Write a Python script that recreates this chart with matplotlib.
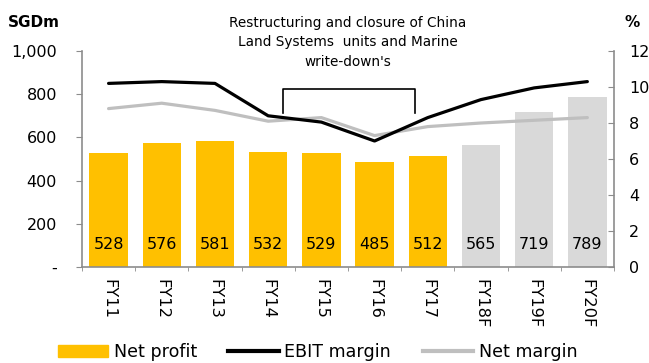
import numpy as np
import matplotlib.pyplot as plt
from matplotlib.ticker import FuncFormatter
from matplotlib.patches import Patch
from matplotlib.lines import Line2D

years = ['FY11', 'FY12', 'FY13', 'FY14', 'FY15', 'FY16', 'FY17', 'FY18F', 'FY19F', 'FY20F']
net_profit = [528, 576, 581, 532, 529, 485, 512, 565, 719, 789]
is_forecast = [False] * 7 + [True] * 3
ebit_margin = [10.2, 10.3, 10.2, 8.4, 8.05, 7.0, 8.3, 9.3, 9.95, 10.3]
net_margin = [8.8, 9.1, 8.7, 8.1, 8.3, 7.3, 7.8, 8.0, 8.15, 8.3]

YELLOW = '#FFC000'
LGREY = '#D9D9D9'
MGREY = '#BFBFBF'
AXGREY = '#8C8C8C'

plt.rcParams['font.family'] = ['DejaVu Sans']

fig = plt.figure(figsize=(6.49, 3.63), dpi=100)
ax = fig.add_axes([0.1263, 0.2645, 0.8197, 0.595])
x = np.arange(len(years))
colors = [LGREY if f else YELLOW for f in is_forecast]
ax.bar(x, net_profit, width=0.72, color=colors, zorder=1)
for xi, v in zip(x, net_profit):
    ax.text(xi, 106, str(v), ha='center', va='center', fontsize=11.5, zorder=5)

ax.set_ylim(0, 1000)
ax.set_xlim(-0.5, len(years) - 0.5)
ax.set_yticks(np.arange(0, 1001, 200))
ax.yaxis.set_major_formatter(FuncFormatter(lambda v, p: '-' if v == 0 else f'{int(v):,}'))
ax.set_xticks(x)
ax.set_xticklabels(years, rotation=270, fontsize=11.7)
ax.set_xticks(np.arange(-0.5, len(years)), minor=True)
ax.tick_params(axis='y', labelsize=11.5, color=AXGREY, length=4, pad=14)
ax.tick_params(axis='x', which='major', length=0, pad=9)
ax.tick_params(axis='x', which='minor', length=3, color=AXGREY)
for s in ['top', 'right']:
    ax.spines[s].set_visible(False)
for s in ['left', 'bottom']:
    ax.spines[s].set_color(AXGREY)
    ax.spines[s].set_linewidth(1.2)

ax2 = ax.twinx()
ax2.plot(x, net_margin, color=MGREY, lw=2.3, zorder=3, solid_capstyle='round')
ax2.plot(x, ebit_margin, color='black', lw=2.3, zorder=4, solid_capstyle='round')
ax2.set_ylim(0, 12)
ax2.set_yticks(np.arange(0, 13, 2))
ax2.tick_params(axis='y', labelsize=11.5, color=AXGREY, direction='in', length=4, pad=11)
for s in ['top', 'left', 'bottom']:
    ax2.spines[s].set_visible(False)
ax2.spines['right'].set_color(AXGREY)
ax2.spines['right'].set_linewidth(1.2)

# bracket for restructuring period
bx0, bx1, btop, bbot = 3.28, 5.76, 9.9, 8.55
ax2.plot([bx0, bx0, bx1, bx1], [bbot, btop, btop, bbot], color='black', lw=1.2, zorder=6)
ax2.text(4.5, 12.5,
         "Restructuring and closure of China\nLand Systems  units and Marine\nwrite-down's",
         ha='center', va='center', fontsize=9.8, linespacing=1.5)

fig.text(0.012, 0.939, 'SGDm', fontsize=11, fontweight='bold', va='center')
fig.text(0.962, 0.939, '%', fontsize=11, fontweight='bold', va='center')

handles = [Patch(color=YELLOW), Line2D([], [], color='black', lw=3),
           Line2D([], [], color=MGREY, lw=3)]
fig.legend(handles, ['Net profit', 'EBIT margin', 'Net margin'], loc='center',
           bbox_to_anchor=(0.489, 0.03), ncol=3, frameon=False, fontsize=12.6,
           handlelength=2.9, handletextpad=0.3, columnspacing=1.8,
           borderpad=0, borderaxespad=0)

fig.savefig('out.png', dpi=100)
